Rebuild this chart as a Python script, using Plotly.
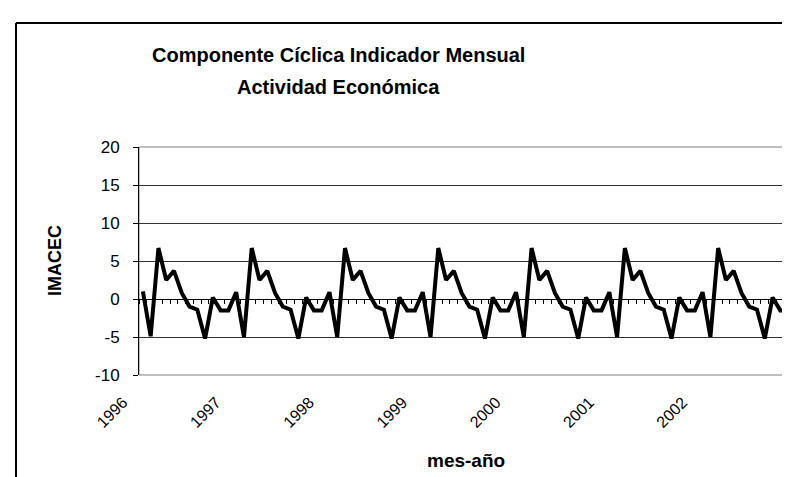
import plotly.graph_objects as go

# Monthly cyclical component of IMACEC, Jan 1996 - Dec 2002
values_1996 = [1.0, -4.9, 6.7, 2.5, 3.7, 0.8, -1.0, -1.4, -5.2, 0.2, -1.5, -1.5]
values_1997 = [0.9, -5.0, 6.7, 2.5, 3.7, 0.8, -1.0, -1.4, -5.2, 0.2, -1.5, -1.5]
values_1998 = [0.9, -5.0, 6.7, 2.5, 3.7, 0.8, -1.0, -1.4, -5.2, 0.2, -1.5, -1.5]
values_1999 = [0.9, -5.0, 6.7, 2.5, 3.7, 0.8, -1.0, -1.4, -5.2, 0.2, -1.5, -1.5]
values_2000 = [0.9, -5.0, 6.7, 2.5, 3.7, 0.8, -1.0, -1.4, -5.2, 0.2, -1.5, -1.5]
values_2001 = [0.9, -5.0, 6.7, 2.5, 3.7, 0.8, -1.0, -1.4, -5.2, 0.2, -1.5, -1.5]
values_2002 = [0.9, -5.0, 6.7, 2.5, 3.7, 0.8, -1.0, -1.4, -5.2, 0.2, -1.5, -1.5]
years = ["1996", "1997", "1998", "1999", "2000", "2001", "2002"]
y_ticks = [-10, -5, 0, 5, 10, 15, 20]
y_tick_text = ["-10", "-5", "0", "5", "10", "15", "20"]

series = (values_1996 + values_1997 + values_1998 + values_1999 +
          values_2000 + values_2001 + values_2002)
months = list(range(len(series)))
year_pos = [12 * i for i in range(len(years))]

W, H = 790, 477
L, R, T, B = 131, 6, 139, 110
pw, ph = W - L - R, H - T - B

def px_x(x):
    return (x - L) / pw

def px_y(y):
    return (H - B - y) / ph

FONT = "Liberation Sans, Arial, sans-serif"

fig = go.Figure()
fig.add_trace(go.Scatter(x=months, y=series, mode="lines",
                         line=dict(color="black", width=4),
                         showlegend=False, hoverinfo="skip"))
# invisible trace for the zero-crossing category axis with minor ticks
fig.add_trace(go.Scatter(x=months, y=series, mode="lines", xaxis="x2",
                         line=dict(color="rgba(0,0,0,0)", width=0),
                         showlegend=False, hoverinfo="skip"))

fig.update_layout(
    width=W, height=H,
    margin=dict(l=L, r=R, t=T, b=B),
    paper_bgcolor="white", plot_bgcolor="white",
    xaxis=dict(range=[-0.5, len(series) - 0.5], tickmode="array",
               tickvals=year_pos, ticktext=years, tickangle=-45,
               ticks="", showgrid=False, zeroline=False, showline=False,
               ticklabelshift=-20, ticklabelstandoff=14,
               tickfont=dict(family=FONT, size=16, color="black")),
    xaxis2=dict(range=[-0.5, len(series) - 0.5], overlaying="x",
                anchor="free", position=1 / 3, showticklabels=False,
                tickmode="linear", tick0=0.5, dtick=1, ticks="outside",
                ticklen=4, tickcolor="black", tickwidth=1,
                showline=True, linecolor="black", linewidth=1,
                showgrid=False, zeroline=False),
    yaxis=dict(range=[-10, 20], tickmode="array", tickvals=y_ticks,
               ticktext=y_tick_text,
               ticks="outside", ticklen=5, tickcolor="black",
               showline=True, linecolor="black", linewidth=1,
               showgrid=True, gridcolor="#333333", gridwidth=1,
               zeroline=False, ticklabelstandoff=10,
               tickfont=dict(family=FONT, size=17, color="black")),
    annotations=[
        dict(text="<b>Componente Cíclica Indicador Mensual</b>",
             x=px_x(330), y=px_y(47), xref="paper", yref="paper",
             showarrow=False, xanchor="center", yanchor="middle",
             font=dict(family=FONT, size=20, color="black")),
        dict(text="<b>Actividad Económica</b>",
             x=px_x(330), y=px_y(79), xref="paper", yref="paper",
             showarrow=False, xanchor="center", yanchor="middle",
             font=dict(family=FONT, size=20, color="black")),
        dict(text="<b>IMACEC</b>", x=px_x(47), y=0.5, xref="paper", yref="paper",
             textangle=-90, showarrow=False, xanchor="center", yanchor="middle",
             font=dict(family=FONT, size=18, color="black")),
        dict(text="<b>mes-año</b>", x=0.5, y=px_y(452), xref="paper", yref="paper",
             showarrow=False, xanchor="center", yanchor="middle",
             font=dict(family=FONT, size=19, color="black")),
    ],
    shapes=[
        # plot area border
        dict(type="rect", xref="paper", yref="paper", x0=0, x1=1, y0=0, y1=1,
             line=dict(color="#808080", width=1), layer="below"),
        # chart area frame
        dict(type="line", xref="paper", yref="paper", x0=px_x(8), x1=px_x(8),
             y0=px_y(15), y1=px_y(500), line=dict(color="black", width=2)),
        dict(type="line", xref="paper", yref="paper", x0=px_x(8), x1=px_x(820),
             y0=px_y(15), y1=px_y(15), line=dict(color="black", width=2)),
    ],
)

fig.write_html("out.html")
